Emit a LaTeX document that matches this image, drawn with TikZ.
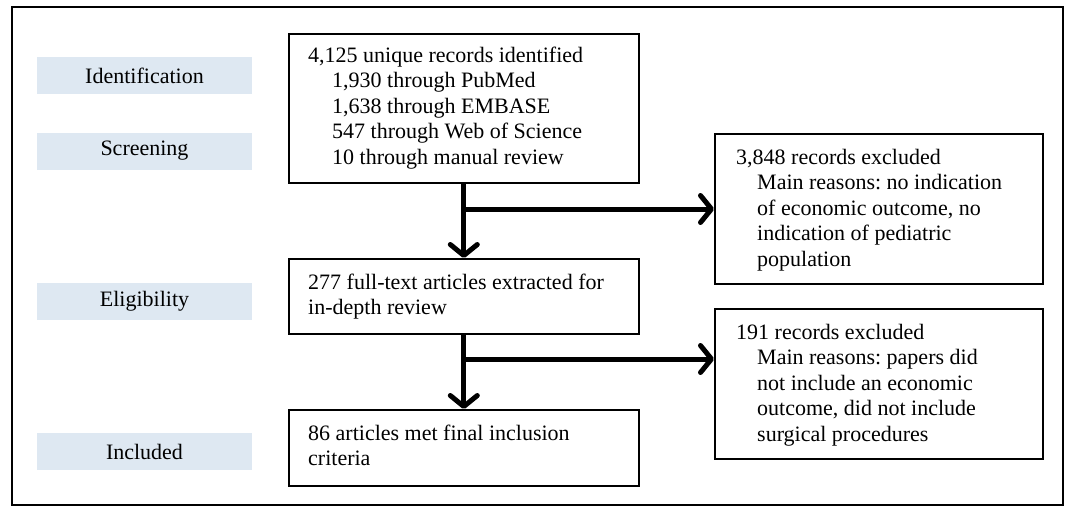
\documentclass[tikz,border=0pt]{standalone}
\usepackage{fontspec}
\setmainfont{Liberation Serif}
\usetikzlibrary{arrows.meta}
\definecolor{lblfill}{RGB}{222,232,242}
\frenchspacing
\begin{document}
\begin{tikzpicture}[x=1pt,y=-1pt,
  every node/.style={font=\fontsize{22}{25.5}\selectfont, inner sep=0pt},
  stagebox/.style={fill=lblfill, minimum width=215pt, minimum height=37pt, anchor=center},
  flowbox/.style={draw, line width=1.6pt, anchor=north west},
  boxtext/.style={anchor=base west},
  flowarrow/.style={line width=5pt, -{Straight Barb[length=11pt,width=27pt,round]}}
]
\useasboundingbox (0,0) rectangle (1068,506);
\draw[line width=2.4pt] (12,7) rectangle (1063,505);

% stage labels
\node[stagebox] (ident) at (144.5,75.5) {Identification};
\node[stagebox] (screen) at (144.5,151) {Screening};
\node[stagebox] (elig) at (144.5,301) {Eligibility};
\node[stagebox] (incl) at (144.5,451.5) {Included};

% main boxes
\node[flowbox, minimum width=350pt, minimum height=149pt] (b1) at (288,33) {};
\node[flowbox, minimum width=350pt, minimum height=75pt] (b2) at (288,258) {};
\node[flowbox, minimum width=350pt, minimum height=76pt] (b3) at (288,409) {};
\node[flowbox, minimum width=328pt, minimum height=150pt] (e1) at (714,133) {};
\node[flowbox, minimum width=328pt, minimum height=150pt] (e2) at (714,308) {};

% texts
\node[boxtext] (t1) at (308,62) {\vtop{\hbox{4,125 unique records identified}
  \hbox{\hspace{24pt}1,930 through PubMed}
  \hbox{\hspace{24pt}1,638 through EMBASE}
  \hbox{\hspace{24pt}547 through Web of Science}
  \hbox{\hspace{24pt}10 through manual review}}};
\node[boxtext] (t2) at (308,289) {\vtop{\hbox{277 full-text articles extracted for}
  \hbox{in-depth review}}};
\node[boxtext] (t3) at (308,440) {\vtop{\hbox{86 articles met final inclusion}
  \hbox{criteria}}};
\node[boxtext] (t4) at (736,164) {\vtop{\hbox{3,848 records excluded}
  \hbox{\hspace{21pt}Main reasons: no indication}
  \hbox{\hspace{21pt}of economic outcome, no}
  \hbox{\hspace{21pt}indication of pediatric}
  \hbox{\hspace{21pt}population}}};
\node[boxtext] (t5) at (736,339) {\vtop{\hbox{191 records excluded}
  \hbox{\hspace{21pt}Main reasons: papers did}
  \hbox{\hspace{21pt}not include an economic}
  \hbox{\hspace{21pt}outcome, did not include}
  \hbox{\hspace{21pt}surgical procedures}}};

% connectors
\coordinate (j1) at (463,209);
\coordinate (j2) at (463,359);
\draw[flowarrow] (b1.south) -- (b2.north);
\draw[flowarrow] (j1) -- (e1.west |- j1);
\draw[flowarrow] (b2.south) -- (b3.north);
\draw[flowarrow] (j2) -- (e2.west |- j2);
\end{tikzpicture}
\end{document}
